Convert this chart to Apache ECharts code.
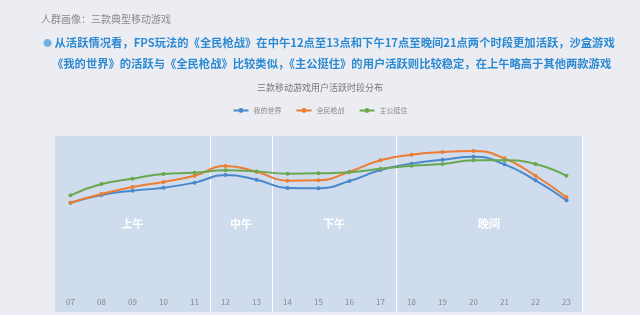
<!DOCTYPE html>
<html>
<head>
<meta charset="utf-8">
<script src="https://cdn.jsdelivr.net/npm/echarts@6/dist/echarts.min.js"></script>
<style>
  html, body { margin: 0; padding: 0; background: #ecedf2; }
  #chart { width: 640px; height: 315px; }
</style>
</head>
<body>
<div id="chart"></div>
<script>
// hours on the x axis
var hours = ['07', '08', '09', '10', '11', '12', '13', '14', '15', '16', '17', '18', '19', '20', '21', '22', '23']
// activity index (no y scale shown)
var wodeshijie = [62.1, 66.5, 68.9, 70.6, 73.5, 77.8, 75.2, 70.5, 70.3, 74.4, 80.7, 84.3, 86.5, 88.2, 83.9, 74.8, 63.5]
var quanminqiangzhan = [62.1, 67.0, 71.0, 73.9, 77.4, 83.0, 79.7, 74.6, 74.8, 79.7, 86.2, 89.4, 90.9, 91.5, 87.3, 77.4, 65.2]
var zhugongtingzhu = [66.3, 72.7, 75.7, 78.4, 79.1, 80.5, 79.9, 78.6, 78.8, 79.4, 81.4, 83.1, 84.1, 86.2, 86.2, 84.1, 77.4]
var seriesNames = ['我的世界', '全民枪战', '主公挺住']
var seriesColors = ['#4a88cc', '#ed7d31', '#6aa84f']
// day periods: [name, first hour, last hour]
var periods = [['上午', '07', '11'], ['中午', '12', '13'], ['下午', '14', '17'], ['晚间', '18', '23']]
// index of the first hour in each period after the first one
var periodStarts = [5, 7, 11]

var font = '"Noto Sans CJK SC", "Noto Sans", sans-serif'

var myChart = echarts.init(document.getElementById('chart'))

function makeSeries(name, data, color, withPeriods) {
  var s = {
    name: name,
    type: 'line',
    data: data,
    smooth: true,
    symbol: 'circle',
    symbolSize: 4,
    lineStyle: { width: 2, color: color },
    itemStyle: { color: color }
  }
  if (withPeriods) {
    s.markArea = {
      silent: true,
      itemStyle: { color: 'rgba(0,0,0,0)' },
      label: {
        show: true,
        position: 'inside',
        color: '#ffffff',
        fontWeight: 'bold',
        fontSize: 11,
        fontFamily: font
      },
      data: periods.map(function (p) {
        return [{ name: p[0], xAxis: p[1] }, { xAxis: p[2] }]
      })
    }
  }
  return s
}

var option = {
  backgroundColor: '#ecedf2',
  textStyle: { fontFamily: font },
  title: [
    {
      text: '人群画像：三款典型移动游戏',
      left: 36,
      top: 9,
      textStyle: { fontSize: 10, fontWeight: 'normal', color: '#8a8a8a', fontFamily: font }
    },
    {
      text: '{dot|●} 从活跃情况看，FPS玩法的《全民枪战》在中午12点至13点和下午17点至晚间21点两个时段更加活跃，沙盒游戏\n{pad|}《我的世界》的活跃与《全民枪战》比较类似，《主公挺住》的用户活跃则比较稳定，在上午略高于其他两款游戏',
      left: 38,
      top: 27,
      textStyle: {
        fontSize: 11.3,
        fontWeight: 'bold',
        color: '#2c8ad3',
        lineHeight: 21,
        fontFamily: font,
        rich: {
          dot: { fontSize: 9, color: '#6fb2e2', lineHeight: 21 },
          pad: { width: 9, lineHeight: 21 }
        }
      }
    },
    {
      text: '三款移动游戏用户活跃时段分布',
      left: 'center',
      top: 78,
      textStyle: { fontSize: 9, fontWeight: 'normal', color: '#777777', fontFamily: font }
    }
  ],
  legend: {
    top: 102,
    left: 'center',
    itemWidth: 15,
    itemHeight: 6,
    itemGap: 14,
    textStyle: { fontSize: 7, color: '#8a8a8a', fontFamily: font },
    data: seriesNames
  },
  grid: {
    show: true,
    backgroundColor: '#cfdcee',
    borderWidth: 0,
    left: 55,
    right: 58,
    top: 136,
    bottom: 3
  },
  xAxis: {
    type: 'category',
    data: hours,
    boundaryGap: true,
    axisLine: { show: false },
    axisTick: { show: false },
    axisLabel: { inside: true, margin: 6, fontSize: 8, color: '#888888', fontFamily: font },
    splitLine: {
      show: true,
      interval: function (index) {
        return periodStarts.indexOf(index) >= 0
      },
      lineStyle: { color: '#ffffff', width: 1 }
    }
  },
  yAxis: {
    type: 'value',
    min: 0,
    max: 100,
    show: false,
    splitLine: { show: false }
  },
  series: [
    makeSeries(seriesNames[0], wodeshijie, seriesColors[0], true),
    makeSeries(seriesNames[1], quanminqiangzhan, seriesColors[1], false),
    makeSeries(seriesNames[2], zhugongtingzhu, seriesColors[2], false)
  ]
}

myChart.setOption(option)
</script>
</body>
</html>
